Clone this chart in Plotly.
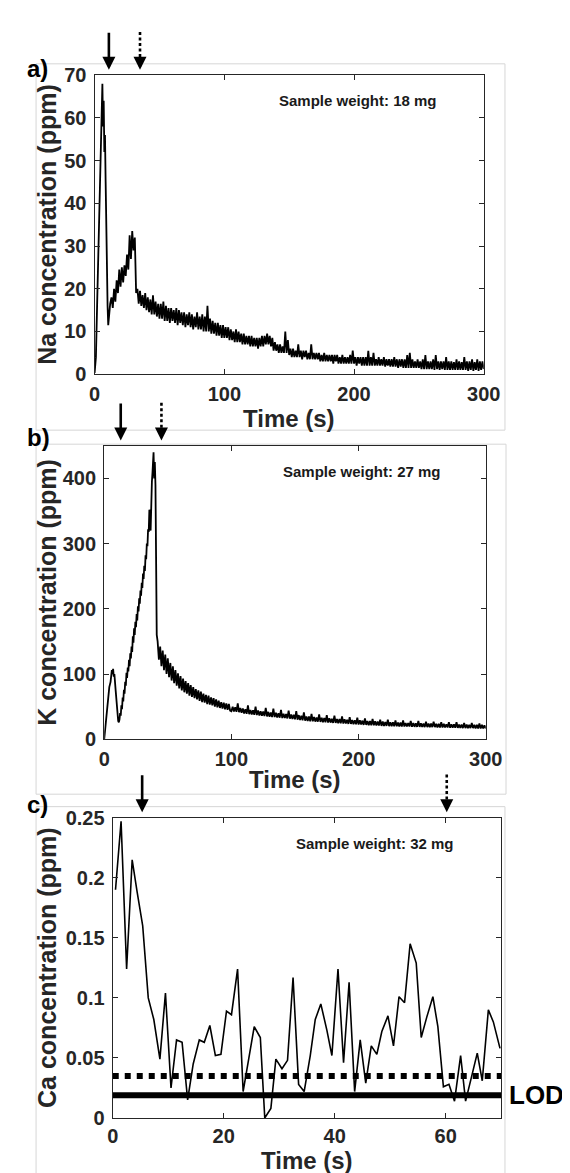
import plotly.graph_objects as go

W, H = 570, 1173

# ---------------- data ----------------
# Panel a: Na concentration (ppm) vs time (s)
na_time_early = [0, 1, 2, 3, 4, 5, 5.5, 6, 6.5, 7, 7.5, 8, 8.5, 9, 10, 10.5, 11, 12]
na_conc_early = [0.3, 4, 17, 31, 46, 60, 66, 68, 58, 64, 52, 56, 45, 32, 16, 11.5, 13.5, 16.5]
na_tail_start = 13  # 1 s sampling afterwards
na_conc_tail = [
    18, 15.5, 20, 17, 22, 19, 24.5, 20.5, 25, 21.5,
    25.5, 23, 28, 24.5, 32.5, 27, 33.5, 29, 32, 19,
    20, 16.5, 19.5, 16, 18.5, 15.5, 19, 15, 18, 14.5,
    17.5, 14, 18.5, 14, 17, 13.5, 16.5, 13, 16.5, 13,
    17, 12.5, 16, 12.5, 15.5, 12, 15.5, 12.5, 15, 12,
    15.5, 11.5, 15, 12, 14.5, 11.5, 14.5, 11, 14, 11.5,
    14.5, 11, 14, 10.5, 13.5, 11, 14.5, 10.5, 13.5, 10.5,
    14, 10, 13.5, 10, 16, 10, 13, 9.5, 12.5, 9.5,
    12, 9, 12, 9, 11.5, 8.5, 11.5, 8.5, 11, 8.5,
    11, 8, 10.5, 8, 10, 7.5, 10.5, 7.5, 10, 7.5,
    9.5, 7, 9.5, 7, 9, 7, 9, 6.5, 9, 6.5,
    8.5, 6.5, 8.5, 6, 8.5, 6.5, 9, 6.5, 9, 7,
    9.5, 7, 9, 6.5, 8.5, 5.5, 7.5, 5.5, 7, 5,
    7, 5, 6.5, 5, 10, 5, 8, 4.5, 6, 4,
    6, 4, 5.5, 4, 7, 4, 5.5, 3.5, 5.5, 4,
    5.5, 3.5, 5, 3.5, 7, 3.5, 5, 3.5, 5, 3.5,
    5, 3, 4.5, 3, 5, 3, 4.5, 3, 4.5, 3,
    4.5, 2.5, 4.5, 3, 4.5, 2.5, 4, 2.5, 4.5, 2.5,
    4, 2.5, 4, 2.5, 4.5, 2.5, 5.5, 2.5, 4, 2,
    4, 2.5, 4, 2, 4, 2, 4, 2, 5.5, 2,
    4, 2, 5, 2, 3.5, 2, 4, 2, 3.5, 2,
    4, 1.8, 3.5, 2, 3.5, 1.8, 3.5, 1.8, 4, 1.8,
    3.5, 1.5, 3.5, 1.8, 3.5, 1.5, 3.5, 1.5, 4.5, 1.5,
    5, 1.5, 3.5, 1.5, 3, 1.5, 3.5, 1.5, 3, 1.2,
    3.5, 1.2, 4.5, 1.2, 3, 1.2, 3, 1.2, 3.5, 1,
    4.5, 1.2, 3, 1, 3, 1.2, 3, 1, 4, 1,
    3, 1, 3, 1, 2.8, 1, 3.5, 1, 3, 1,
    2.8, 1, 4, 1, 3, 0.8, 3, 1, 3.5, 0.8,
    2.8, 1, 3.5, 0.8, 3, 1, 3, 1.2,
]

# Panel b: K concentration (ppm) vs time (s)
k_time_early = [0, 1, 2, 3, 4, 5, 6, 6.5, 7, 7.5, 8, 9, 10, 11, 11.5,
                12, 12.5, 13, 13.5, 14, 14.5, 15, 15.5, 16, 16.5, 17, 17.5, 18, 18.5,
                19, 19.5, 20, 20.5, 21, 21.5, 22, 22.5, 23, 23.5, 24, 24.5, 25, 25.5,
                26, 26.5, 27, 27.5, 28, 28.5, 29, 29.5, 30, 30.5, 31, 31.5, 32, 32.5,
                33, 33.5, 34, 34.5, 35,
                35.5, 36, 36.5, 37, 37.5, 38, 38.8, 39.3, 39.8, 40.3, 40.8, 41.3]
k_conc_early = [0, 22, 48, 66, 80, 88, 106, 100, 108, 96, 100, 75, 45, 28, 26,
                30, 40, 36, 52, 46, 64, 58, 76, 70, 88, 82, 102, 94, 110,
                104, 122, 112, 132, 124, 142, 134, 158, 148, 170, 160, 180, 172, 192,
                182, 204, 196, 216, 208, 228, 220, 240, 232, 254, 246, 266, 258, 282,
                276, 300, 296, 322, 318,
                352, 345, 320, 382, 395, 410, 440, 400, 425, 390, 240, 160]
k_tail_start = 42  # 1 s sampling afterwards
k_conc_tail = [
    150, 122, 142, 112, 136, 106, 130, 100, 124, 95,
    117, 90, 112, 86, 106, 82, 101, 78, 97, 75,
    93, 72, 89, 70, 86, 67, 83, 65, 80, 63,
    77, 61, 75, 59, 73, 57, 70, 56, 68, 54,
    67, 53, 64, 52, 63, 50, 61, 49, 59, 48,
    57, 47, 56, 46, 55, 45, 54, 44, 43, 50,
    42.5, 49, 42, 55, 41.5, 48, 40.5, 47, 39.5, 46,
    39, 52, 38.5, 45, 38, 44.5, 37.5, 50, 37, 44,
    36.5, 43, 36, 42.5, 35.5, 48, 35, 42, 34.5, 41,
    34, 47, 34, 40.5, 33.5, 40, 33, 45, 32.5, 39,
    32.5, 38.5, 32, 44, 31.5, 38, 31, 37.5, 30.5, 43,
    30, 37, 29.5, 36, 29, 41, 28.5, 35, 28, 35,
    27.5, 39, 27.5, 34, 27, 33.5, 27, 38, 26.5, 33,
    26, 32.5, 26, 37, 25.5, 32, 25.5, 31.5, 25, 36,
    25, 31, 24.5, 31, 24.5, 35, 24, 30.5, 24, 30,
    23.5, 34, 23.5, 29.5, 23, 29, 23, 33, 22.5, 29,
    22.5, 28.5, 22, 32, 22, 28, 21.5, 28, 21.5, 31,
    21.5, 27.5, 21, 27, 21, 30, 20.5, 27, 20.5, 26.5,
    20.5, 30, 20, 26, 20, 26, 20, 29, 20, 25.5,
    19.5, 25.5, 19.5, 29, 19.5, 25, 19.5, 25, 19.5, 28,
    19, 25, 19, 24.5, 19, 28, 19, 24.5, 19, 24,
    18.5, 27, 18.5, 24, 18.5, 24, 18.5, 27, 18.5, 23.5,
    18, 23.5, 18, 26, 18, 23.5, 18, 23, 18, 26,
    17.5, 23, 17.5, 23, 17.5, 26, 17.5, 22.5, 17.5, 22.5,
    17, 25, 17, 22.5, 17, 22, 17, 25, 17, 22,
    16.5, 22, 16.5, 24, 16.5, 22, 16.5, 21.5, 16.5,
]

# Panel c: Ca concentration (ppm) vs time (s)
ca_time = [0.5, 1.5, 2.5, 3.5, 4.4, 5.4, 6.4, 7.4, 8.5, 9.5, 10.5, 11.5, 12.5, 13.5,
           14.5, 15.6, 16.5, 17.5, 18.5, 19.5, 20.5, 21.4, 22.5, 23.5, 24.5, 25.5,
           26.6, 27.4, 28.5, 29.4, 30.5, 31.5, 32.5, 33.5, 34.5, 35.6, 36.5, 37.5,
           38.6, 39.5, 40.6, 41.6, 42.6, 43.6, 44.6, 45.6, 46.6, 47.6, 48.5, 49.6,
           50.6, 51.6, 52.6, 53.6, 54.7, 55.6, 56.6, 57.7, 58.6, 59.6, 60.6, 61.6,
           62.7, 63.6, 64.6, 65.7, 66.6, 67.7, 68.6, 69.8]
ca_conc = [0.19, 0.247, 0.124, 0.215, 0.188, 0.16, 0.100, 0.082, 0.049, 0.104, 0.025,
           0.065, 0.063, 0.015, 0.045, 0.065, 0.063, 0.077, 0.052, 0.053, 0.089, 0.086,
           0.124, 0.022, 0.049, 0.076, 0.067, 0.0, 0.008, 0.049, 0.041, 0.048, 0.117,
           0.028, 0.022, 0.052, 0.082, 0.095, 0.073, 0.052, 0.124, 0.046, 0.113, 0.022,
           0.065, 0.029, 0.060, 0.053, 0.072, 0.085, 0.060, 0.101, 0.096, 0.145, 0.129,
           0.067, 0.084, 0.101, 0.076, 0.026, 0.028, 0.014, 0.052, 0.014, 0.033, 0.054,
           0.031, 0.090, 0.080, 0.058]
ca_lod = 0.019          # solid thick line (LOD)
ca_dotted_level = 0.035  # dotted thick line

# event arrows (time in s): solid arrow, dotted arrow
na_arrows = [11, 35]
k_arrows = [13, 45]
ca_arrows = [5.3, 60.2]

sample_weights = ["18 mg", "27 mg", "32 mg"]
y_titles = ["Na concentration (ppm)", "K concentration (ppm)", "Ca concentration (ppm)"]
panel_letters = ["a)", "b)", "c)"]

na_ticks = [0, 10, 20, 30, 40, 50, 60, 70]
k_ticks = [0, 100, 200, 300, 400]
ca_ticks = [0, 0.05, 0.1, 0.15, 0.2, 0.25]
ca_tick_text = ["0", "0.05", "0.1", "0.15", "0.2", "0.25"]
t300_ticks = [0, 100, 200, 300]
t70_ticks = [0, 20, 40, 60]

# ---------------- layout geometry (pixels) ----------------
# (left, right, top, bottom) of each plot area
boxes_px = [(84, 489.5, 57.3, 362), (94, 491.6, 435, 734), (102.9, 507.6, 814, 1120)]
frames_px = [(23, 511.6, 45.7, 419), (23, 512.7, 433.3, 790), (23, 511.6, 802.7, 1185)]


def px(x):
    return x / W


def py(y):
    return 1 - y / H


FONT = "Liberation Sans, Arial, Helvetica, sans-serif"
AX = "#262626"

fig = go.Figure()

na_x = na_time_early + list(range(na_tail_start, na_tail_start + len(na_conc_tail)))
na_y = na_conc_early + na_conc_tail
k_x = k_time_early + list(range(k_tail_start, k_tail_start + len(k_conc_tail)))
k_y = k_conc_early + k_conc_tail

fig.add_trace(go.Scatter(x=na_x, y=na_y, mode="lines", line=dict(color="black", width=1.8),
                         xaxis="x", yaxis="y", hoverinfo="skip"))
fig.add_trace(go.Scatter(x=k_x, y=k_y, mode="lines", line=dict(color="black", width=1.8),
                         xaxis="x2", yaxis="y2", hoverinfo="skip"))
fig.add_trace(go.Scatter(x=ca_time, y=ca_conc, mode="lines", line=dict(color="black", width=1.6),
                         xaxis="x3", yaxis="y3", hoverinfo="skip"))
fig.add_trace(go.Scatter(x=[0, 70], y=[ca_dotted_level, ca_dotted_level], mode="lines",
                         line=dict(color="black", width=6, dash="6px,6px"),
                         xaxis="x3", yaxis="y3", hoverinfo="skip"))
fig.add_trace(go.Scatter(x=[0, 70], y=[ca_lod, ca_lod], mode="lines",
                         line=dict(color="black", width=6),
                         xaxis="x3", yaxis="y3", hoverinfo="skip"))

tickfont = dict(family=FONT, size=20, color=AX, weight="bold")


def axis_style(rng, dom, anchor, tickvals, ticktext=None):
    d = dict(range=rng, domain=dom, anchor=anchor, showline=True, linecolor=AX, linewidth=1.3,
             mirror="allticks", ticks="inside", ticklen=5, tickwidth=1.2, tickcolor=AX,
             showgrid=False, zeroline=False, tickfont=tickfont, tickvals=tickvals,
             fixedrange=True)
    if ticktext is not None:
        d["ticktext"] = ticktext
    return d


(l1, r1, t1, b1), (l2, r2, t2, b2), (l3, r3, t3, b3) = boxes_px
fig.update_layout(
    xaxis=axis_style([0, 300], [px(l1), px(r1)], "y", t300_ticks),
    yaxis=axis_style([0, 70], [py(b1), py(t1)], "x", na_ticks),
    xaxis2=axis_style([0, 300], [px(l2), px(r2)], "y2", t300_ticks),
    yaxis2=axis_style([0, 450], [py(b2), py(t2)], "x2", k_ticks),
    xaxis3=axis_style([0, 70], [px(l3), px(r3)], "y3", t70_ticks),
    yaxis3=axis_style([0, 0.25], [py(b3), py(t3)], "x3", ca_ticks, ca_tick_text),
)
for ax in ["yaxis", "yaxis2", "yaxis3"]:
    fig.layout[ax].ticklabelstandoff = 3
for ax in ["xaxis", "xaxis2"]:
    fig.layout[ax].ticklabelstandoff = 2
fig.layout["xaxis3"].ticklabelstandoff = 0

shapes = []
annotations = []
for (fl, fr, ft, fb) in frames_px:
    shapes.append(dict(type="rect", xref="paper", yref="paper", x0=px(fl), x1=px(fr),
                       y0=py(fb), y1=py(ft), line=dict(color="#d6d6d6", width=1), layer="below"))

xrefs = ["x", "x2", "x3"]
arrows = [na_arrows, k_arrows, ca_arrows]
letter_y = [50, 426, 800.7]
sample_pos = [(358.5, 83.3), (363, 461), (376, 840)]
ytitle_x = [34.5, 33.6, 34.5]
xtitle_y = [406.7, 775, 1163]

for i in range(3):
    l, r, t, b = boxes_px[i]
    xr = xrefs[i]
    tip = t - 5.5
    tail = t - 44
    head = 13
    # solid arrow
    annotations.append(dict(x=arrows[i][0], y=py(tip), xref=xr, yref="paper", text="",
                            showarrow=True, ax=0, ay=-(tip - tail), arrowhead=2,
                            arrowsize=1, arrowwidth=2.6, arrowcolor="black"))
    # dotted arrow: dotted shaft + head
    shapes.append(dict(type="line", xref=xr, yref="paper", x0=arrows[i][1], x1=arrows[i][1],
                       y0=py(tail), y1=py(tip - head + 2),
                       line=dict(color="black", width=2.6, dash="3px,2.5px")))
    annotations.append(dict(x=arrows[i][1], y=py(tip), xref=xr, yref="paper", text="",
                            showarrow=True, ax=0, ay=-head, arrowhead=2,
                            arrowsize=1, arrowwidth=2.6, arrowcolor="black"))
    # panel letter
    annotations.append(dict(x=px(11), y=py(letter_y[i]), xref="paper", yref="paper",
                            text="<b>" + panel_letters[i] + "</b>", showarrow=False,
                            xanchor="left", yanchor="middle",
                            font=dict(family=FONT, size=24, color="black")))
    # sample weight
    sx, sy = sample_pos[i]
    annotations.append(dict(x=px(sx), y=py(sy), xref="paper", yref="paper",
                            text="<b>Sample weight: " + sample_weights[i] + "</b>",
                            showarrow=False, xanchor="center", yanchor="middle",
                            font=dict(family=FONT, size=15, color="#1a1a1a")))
    # y title
    annotations.append(dict(x=px(ytitle_x[i]), y=py((t + b) / 2), xref="paper", yref="paper",
                            text="<b>" + y_titles[i] + "</b>", textangle=-90, showarrow=False,
                            xanchor="center", yanchor="middle",
                            font=dict(family=FONT, size=25, color=AX)))
    # x title
    annotations.append(dict(x=px((l + r) / 2), y=py(xtitle_y[i]), xref="paper", yref="paper",
                            text="<b>Time (s)</b>", showarrow=False,
                            xanchor="center", yanchor="middle",
                            font=dict(family=FONT, size=24, color=AX)))

annotations.append(dict(x=px(514), y=py(1097), xref="paper", yref="paper", text="<b>LOD</b>",
                        showarrow=False, xanchor="left", yanchor="middle",
                        font=dict(family=FONT, size=26, color="black")))

fig.update_layout(width=W, height=H, margin=dict(l=0, r=0, t=0, b=0),
                  paper_bgcolor="white", plot_bgcolor="white", showlegend=False,
                  shapes=shapes, annotations=annotations, font=dict(family=FONT))

fig.write_html("out.html")
